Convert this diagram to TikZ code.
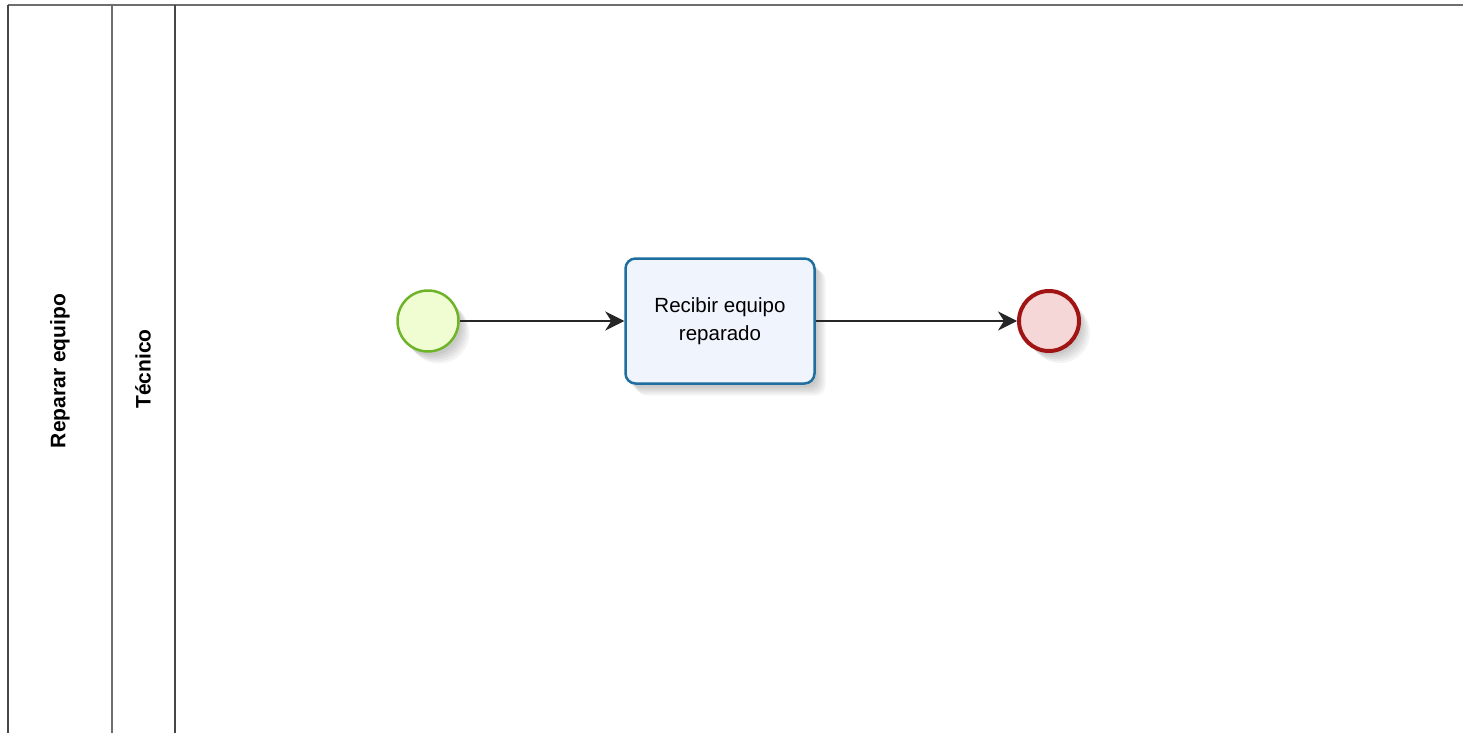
\documentclass[tikz,border=0pt]{standalone}
\usepackage{fontspec}
\setmainfont{Liberation Sans}
\usetikzlibrary{arrows.meta}
\definecolor{poolline}{RGB}{70,70,70}
\definecolor{laneline}{RGB}{110,110,110}
\definecolor{startdraw}{RGB}{110,180,40}
\definecolor{startfill}{RGB}{240,252,210}
\definecolor{taskdraw}{RGB}{30,110,160}
\definecolor{taskfill}{RGB}{240,244,252}
\definecolor{enddraw}{RGB}{160,20,20}
\definecolor{endfill}{RGB}{245,215,215}
\tikzset{
  shlayer/.style={preaction={draw=none,fill=black,fill opacity=0.045,transform canvas={shift={(#1)}}}},
  evshadow/.style={shlayer={3pt,-4pt},shlayer={5pt,-6pt},shlayer={7pt,-8pt},shlayer={9pt,-10pt},shlayer={11pt,-12pt}},
  startev/.style={circle,draw=startdraw,line width=2.5pt,fill=startfill,minimum size=61pt,inner sep=0pt,evshadow},
  endev/.style={circle,draw=enddraw,line width=4pt,fill=endfill,minimum size=60pt,inner sep=0pt,evshadow},
  taskbox/.style={rectangle,rounded corners=10pt,draw=taskdraw,line width=2.5pt,fill=taskfill,minimum width=189pt,minimum height=125pt,align=center,font=\fontsize{20.5pt}{28pt}\selectfont,evshadow},
  flow/.style={draw=black!85,line width=1.6pt,-{Stealth[length=19pt,width=19pt,inset=6pt]}},
  lanelabel/.style={rotate=90,font=\bfseries\fontsize{21pt}{24pt}\selectfont}
}
\begin{document}
\begin{tikzpicture}[x=1pt,y=-1pt]
\useasboundingbox (0,0) rectangle (1463,733);
\fill[white] (0,0) rectangle (1463,733);
% pool and lane borders
\draw[laneline,line width=2pt] (8,5) -- (1463,5);
\draw[poolline,line width=2.2pt] (8,5) -- (8,733);
\draw[laneline,line width=1.8pt] (112,5) -- (112,733);
\draw[poolline,line width=1.8pt] (175,5) -- (175,733);
\node[lanelabel] (pool) at (60,371) {Reparar equipo};
\node[lanelabel] (lane) at (143,369) {Técnico};
% elements
\node[startev] (start) at (428,321) {};
\node[taskbox] (task) at (720,321) {Recibir equipo\\reparado};
\node[endev] (end) at (1049,321) {};
\draw[flow] (start) -- (task);
\draw[flow] (task) -- (end);
\end{tikzpicture}
\end{document}
